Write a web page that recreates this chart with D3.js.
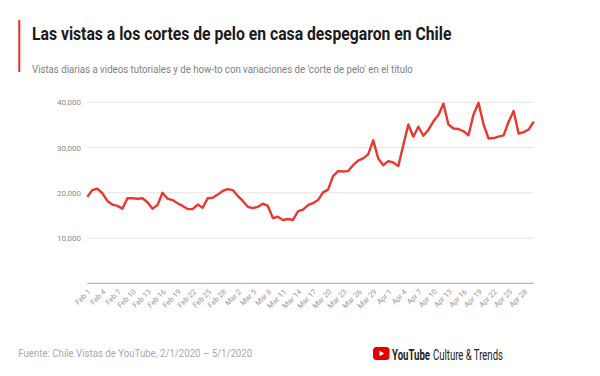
<!DOCTYPE html>
<html>
<head>
<meta charset="utf-8">
<script src="https://cdn.jsdelivr.net/npm/d3@7"></script>
<style>
  body { margin: 0; background: #fff; }
  svg { display: block; font-family: Roboto, "Noto Sans", sans-serif; }
</style>
</head>
<body>
<svg id="chart"></svg>
<script>
// daily views, Feb 1 2020 -> Apr 30 2020
const views = [
  19100, 20600, 20900, 19900, 18200, 17400, 17100, 16500, 18800, 18800,
  18700, 18800, 17900, 16500, 17300, 20000, 18700, 18400, 17700, 17100,
  16400, 16400, 17400, 16700, 18800, 18900, 19600, 20400, 20800, 20600,
  19300, 18200, 16900, 16600, 16900, 17600, 17100, 14400, 14700, 14000,
  14200, 14000, 15900, 16300, 17300, 17700, 18400, 20100, 20700, 23700,
  24800, 24700, 24800, 26100, 27100, 27600, 28500, 31600, 27600, 26100,
  27000, 26700, 25900, 30500, 35100, 32400, 34600, 32600, 33900, 35800,
  37200, 39700, 35100, 34200, 34100, 33600, 32700, 37300, 39900, 35100,
  32000, 32100, 32400, 32700, 35700, 38100, 33100, 33400, 34000, 35700
];
const startDate = new Date(2020, 1, 1);
const yTicks = [10000, 20000, 30000, 40000];
const tickEvery = 3;

const title = "Las vistas a los cortes de pelo en casa despegaron en Chile";
const subtitle = "Vistas diarias a videos tutoriales y de how-to con variaciones de 'corte de pelo' en el título";
const source = "Fuente: Chile Vistas de YouTube, 2/1/2020 – 5/1/2020";

const width = 600, height = 376;
const margin = {top: 102.3, right: 66.3, bottom: 92.7, left: 87.3};

const svg = d3.select("#chart").attr("width", width).attr("height", height);

const data = views.map((v, i) => ({date: d3.timeDay.offset(startDate, i), value: v}));

const x = d3.scaleTime()
  .domain(d3.extent(data, d => d.date))
  .range([margin.left, width - margin.right]);

const y = d3.scaleLinear()
  .domain([0, 40000])
  .range([height - margin.bottom, margin.top]);

// squeeze a text horizontally so it spans the given width
function fitText(sel, x0, y0, w) {
  const natural = sel.node().getComputedTextLength();
  sel.attr("transform", `translate(${x0},${y0}) scale(${w / natural},1)`);
}

// header
svg.append("rect")
  .attr("x", 18.3).attr("y", 20).attr("width", 2).attr("height", 52)
  .attr("fill", "#ee2a24");

svg.append("text")
  .attr("font-size", 17.5).attr("font-weight", 700).attr("fill", "#1a1a1a")
  .text(title)
  .call(fitText, 32, 40, 420);

svg.append("text")
  .attr("font-size", 10.5).attr("fill", "#808080")
  .text(subtitle)
  .call(fitText, 32, 73, 381);

// grid
svg.append("g")
  .selectAll("line")
  .data(yTicks)
  .join("line")
  .attr("x1", margin.left).attr("x2", width - margin.right)
  .attr("y1", d => y(d)).attr("y2", d => y(d))
  .attr("stroke", "#e4e4e4").attr("stroke-width", 1);

svg.append("g")
  .selectAll("text")
  .data(yTicks)
  .join("text")
  .attr("x", 81).attr("y", d => y(d) + 3)
  .attr("text-anchor", "end")
  .attr("font-size", 8).attr("fill", "#8a8a8a")
  .text(d3.format(","));

// baseline axis
svg.append("line")
  .attr("x1", margin.left).attr("x2", width - margin.right)
  .attr("y1", y(0)).attr("y2", y(0))
  .attr("stroke", "#b8b8b8").attr("stroke-width", 1.2);

const tickDates = data.filter((d, i) => i % tickEvery === 0).map(d => d.date);
const fmt = d3.timeFormat("%b %-d");

svg.append("g")
  .selectAll("text")
  .data(tickDates)
  .join("text")
  .attr("transform", d => `translate(${x(d) + 4},${y(0) + 9}) rotate(-45)`)
  .attr("text-anchor", "end")
  .attr("font-size", 7.5).attr("fill", "#999")
  .text(fmt);

// line
const line = d3.line()
  .x(d => x(d.date))
  .y(d => y(d.value));

svg.append("path")
  .datum(data)
  .attr("d", line)
  .attr("fill", "none")
  .attr("stroke", "#e8382f")
  .attr("stroke-width", 2.4)
  .attr("stroke-linejoin", "round");

// footer
svg.append("text")
  .attr("font-size", 10.5).attr("fill", "#a8a8a8")
  .text(source)
  .call(fitText, 18.3, 357, 234);

const logo = svg.append("g").attr("transform", "translate(373,347)");
logo.append("rect")
  .attr("width", 16.5).attr("height", 13).attr("rx", 3.5)
  .attr("fill", "#e00000");
logo.append("path")
  .attr("d", "M6.5,3.8 L11.3,6.5 L6.5,9.2 Z")
  .attr("fill", "#fff");

svg.append("text")
  .attr("font-size", 14).attr("font-weight", 700).attr("fill", "#212121")
  .text("YouTube")
  .call(fitText, 392, 359.5, 38);

svg.append("text")
  .attr("font-size", 14).attr("fill", "#212121")
  .text("Culture & Trends")
  .call(fitText, 433, 359.5, 70);
</script>
</body>
</html>
